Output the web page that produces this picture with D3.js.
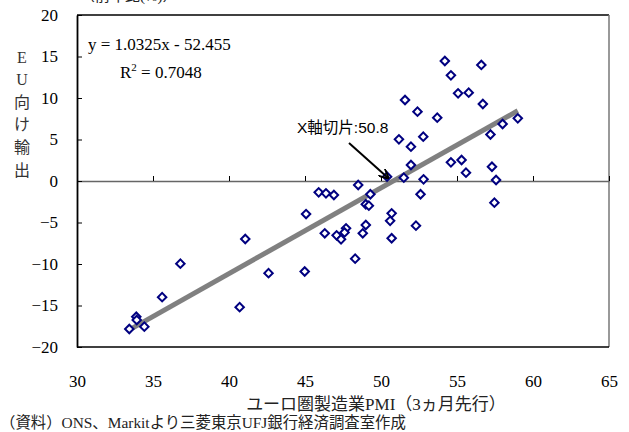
<!DOCTYPE html>
<html>
<head>
<meta charset="utf-8">
<script src="https://cdn.jsdelivr.net/npm/d3@7"></script>
<style>
  body { margin: 0; background: #fff; }
  svg { display: block; }
</style>
</head>
<body>
<div id="graph"></div>
<script>
// PMI (3 months ahead) vs. exports to EU (yoy %)
const pmi = [33.44, 33.9, 33.93, 34.43, 35.6, 36.8, 40.7, 41.07, 42.6, 44.98,
  45.07, 45.9, 46.38, 46.9, 46.3, 47.08, 47.37, 47.7, 47.6, 48.3,
  48.5, 49.0, 49.2, 49.3, 49.0, 48.8, 50.4, 50.7, 50.6, 50.7,
  54.2, 56.6, 54.6, 55.07, 55.77, 56.7, 51.58, 52.4, 53.7, 51.18,
  51.97, 52.78, 51.97, 54.6, 55.3, 55.59, 51.5, 52.8, 52.6, 57.2,
  57.3, 52.3, 59.0, 58.0, 57.57, 57.46]
const exportsEU = [-17.83, -16.35, -16.75, -17.55, -14.0, -9.96, -15.2, -6.99, -11.1, -10.9,
  -3.98, -1.37, -1.49, -1.69, -6.3, -6.55, -7.03, -5.7, -6.2, -9.36,
  -0.48, -2.8, -2.97, -1.6, -5.3, -6.3, 0.52, -3.9, -4.8, -6.9,
  14.46, 13.98, 12.73, 10.56, 10.64, 9.28, 9.76, 8.35, 7.63, 5.02,
  4.14, 5.34, 1.93, 2.25, 2.53, 1.0, 0.4, 0.2, -1.6, 5.6,
  1.72, -5.38, 7.55, 6.87, 0.12, -2.61]
const xTicks = [30, 35, 40, 45, 50, 55, 60, 65]
const yTicks = [-20, -15, -10, -5, 0, 5, 10, 15, 20]
const slope = 1.0325
const intercept = -52.455
const xIntercept = 50.8
const yLabelChars = ['E', 'U', '向', 'け', '輸', '出']

const total_width = 629
const total_height = 432
const margins = { top: 15, left: 77, right: 20, bottom: 85 }
const width = total_width - margins.left - margins.right
const height = total_height - margins.top - margins.bottom

const serif = '"Liberation Serif", "Noto Sans CJK JP", serif'
const sans = '"Liberation Sans", "Noto Sans CJK JP", sans-serif'

const svg = d3.select('#graph').append('svg')
  .attr('width', total_width)
  .attr('height', total_height)

const g = svg.append('g')
  .attr('transform', `translate(${margins.left}, ${margins.top})`)

const x = d3.scaleLinear().domain([30, 65]).range([0, width])
const y = d3.scaleLinear().domain([-20, 20]).range([height, 0])

// plot area border
g.append('line').attr('x1', 0).attr('x2', width).attr('y1', 0).attr('y2', 0)
  .attr('stroke', '#000').attr('stroke-width', 1.5)
g.append('line').attr('x1', width).attr('x2', width).attr('y1', 0).attr('y2', height)
  .attr('stroke', '#777').attr('stroke-width', 1.5)
g.append('line').attr('x1', 0).attr('x2', width).attr('y1', height).attr('y2', height)
  .attr('stroke', '#000').attr('stroke-width', 1.5)

// x axis through y = 0, ticks pointing up, no labels
const xAxis = g.append('g')
  .attr('transform', `translate(0, ${y(0)})`)
  .call(d3.axisTop(x).tickValues(xTicks).tickSize(5).tickSizeOuter(0).tickFormat(''))
xAxis.select('.domain').attr('stroke', '#666').attr('stroke-width', 1.5)
xAxis.selectAll('.tick line').attr('stroke', '#000')

// x tick labels at the bottom
const xLabels = g.append('g')
  .attr('transform', `translate(0, ${height})`)
  .call(d3.axisBottom(x).tickValues(xTicks).tickSize(0).tickFormat(d3.format('d')))
xLabels.select('.domain').remove()
xLabels.selectAll('text')
  .attr('y', 34).attr('dy', '0.35em')
  .style('font-family', serif).style('font-size', '17px').attr('fill', '#000')

// y axis: ticks inside, labels outside
const yAxis = g.append('g')
  .call(d3.axisRight(y).tickValues(yTicks).tickSize(5).tickSizeOuter(0).tickFormat(''))
yAxis.select('.domain').attr('stroke', '#000').attr('stroke-width', 1.8)
yAxis.selectAll('.tick line').attr('stroke', '#000')

const yLabels = g.append('g')
  .call(d3.axisLeft(y).tickValues(yTicks).tickSize(0).tickPadding(19).tickFormat(d3.format('d')))
yLabels.select('.domain').remove()
yLabels.selectAll('text')
  .style('font-family', serif).style('font-size', '17px').attr('fill', '#000')

// regression line
const xExtent = d3.extent(pmi)
g.append('line')
  .attr('x1', x(xExtent[0])).attr('y1', y(slope * xExtent[0] + intercept))
  .attr('x2', x(xExtent[1])).attr('y2', y(slope * xExtent[1] + intercept))
  .attr('stroke', '#808080').attr('stroke-width', 5)

// points
const points = pmi.map((d, i) => [d, exportsEU[i]])
g.append('g').selectAll('path')
  .data(points)
  .enter()
  .append('path')
  .attr('transform', d => `translate(${x(d[0])}, ${y(d[1])}) rotate(45)`)
  .attr('d', 'M-3,-3H3V3H-3Z')
  .attr('fill', '#fff')
  .attr('stroke', '#000080')
  .attr('stroke-width', 2)

// equation
g.append('text')
  .attr('x', 11).attr('y', 35)
  .style('font-family', serif).style('font-size', '17px')
  .text(`y = ${slope}x - ${Math.abs(intercept)}`)
const r2 = g.append('text')
  .attr('x', 43).attr('y', 63)
  .style('font-family', serif).style('font-size', '17px')
r2.append('tspan').text('R')
r2.append('tspan').attr('dy', -7).style('font-size', '11px').text('2')
r2.append('tspan').attr('dy', 7).text(' = 0.7048')

// annotation with arrow
svg.append('defs').append('marker')
  .attr('id', 'arrow')
  .attr('viewBox', '0 0 10 10')
  .attr('refX', 9).attr('refY', 5)
  .attr('markerWidth', 5).attr('markerHeight', 5)
  .attr('orient', 'auto')
  .append('path')
  .attr('d', 'M0,0 L10,5 L0,10')
  .attr('fill', 'none').attr('stroke', '#000').attr('stroke-width', 2)

g.append('text')
  .attr('x', 220).attr('y', 118)
  .style('font-family', sans).style('font-size', '15.5px')
  .text('X軸切片:' + xIntercept)
g.append('line')
  .attr('x1', 272).attr('y1', 128)
  .attr('x2', x(xIntercept) - 5).attr('y2', y(0) - 3)
  .attr('stroke', '#000').attr('stroke-width', 2)
  .attr('marker-end', 'url(#arrow)')

// unit label, clipped at the top of the picture
svg.append('text')
  .attr('x', 80).attr('y', 1)
  .style('font-family', serif).style('font-size', '15px').attr('fill', '#222')
  .text('（前年比(%)）')

// vertical y axis title
svg.append('g').selectAll('text')
  .data(yLabelChars)
  .enter()
  .append('text')
  .attr('x', 22)
  .attr('y', (d, i) => 57 + i * 22.6)
  .attr('dy', '0.35em')
  .attr('text-anchor', 'middle')
  .style('font-family', serif).style('font-size', '16px').attr('fill', '#333')
  .text(d => d)

// x axis title
svg.append('text')
  .attr('x', 376).attr('y', 404).attr('dy', '0.35em')
  .attr('text-anchor', 'middle')
  .style('font-family', serif).style('font-size', '17px').attr('fill', '#222')
  .text('ユーロ圏製造業PMI（3ヵ月先行）')

// source
svg.append('text')
  .attr('x', 0).attr('y', 423).attr('dy', '0.35em')
  .style('font-family', serif).style('font-size', '15.4px').attr('fill', '#222')
  .text('（資料）ONS、Markitより三菱東京UFJ銀行経済調査室作成')
</script>
</body>
</html>
